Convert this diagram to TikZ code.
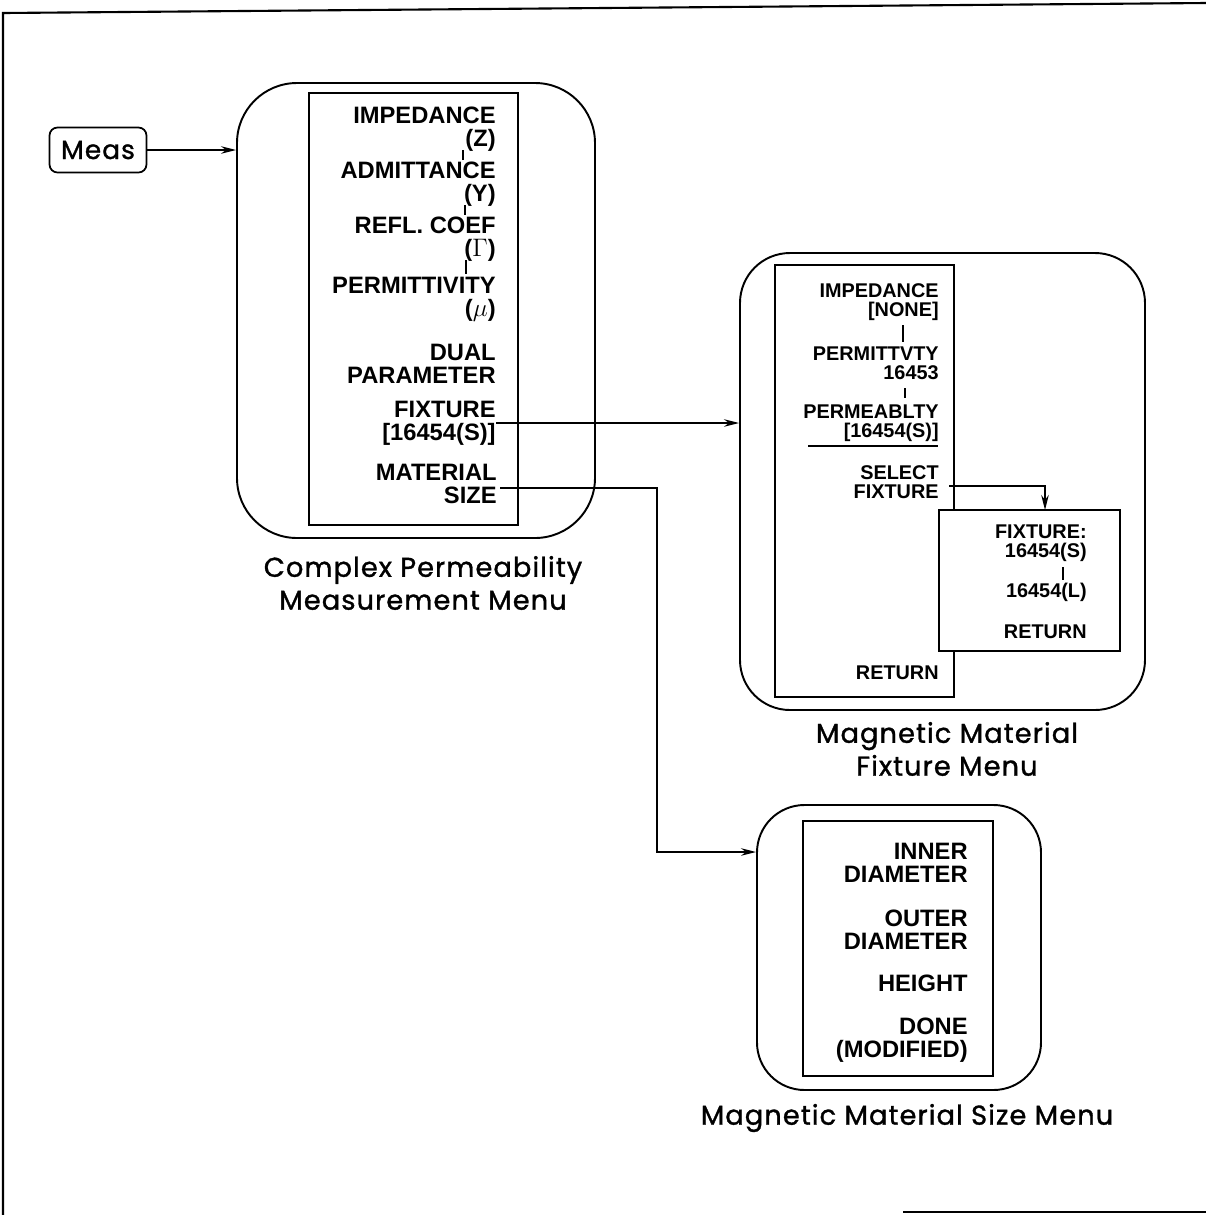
\documentclass[tikz,border=0pt]{standalone}
\usepackage{fontspec}
\setmainfont{Liberation Sans}
\newfontfamily\capfont[FakeBold=1.2,LetterSpace=4]{Poppins}
\usetikzlibrary{positioning,fit,calc,arrows.meta}
\tikzset{
menubox/.style={draw,line width=1.1pt,inner sep=0pt},
keylist/.style={draw,line width=0.9pt,inner sep=0pt},
softkey/.style={anchor=east,align=right,inner sep=0pt,font=\bfseries\fontsize{13.5}{13.2}\selectfont},
smallkey/.style={softkey,font=\bfseries\fontsize{11.3}{11}\selectfont},
caption/.style={align=center,inner sep=0pt,font=\capfont\fontsize{15.5}{18.7}\selectfont},
tick/.style={line width=0.6pt},
flow/.style={-{Stealth[length=3mm,width=1.5mm]},line width=0.8pt}
}
\begin{document}
\begin{tikzpicture}[x=0.02cm,y=-0.02cm]
\useasboundingbox (0,0) rectangle (1206,1215);
% page frame
\draw[line width=1.2pt] (1206,3) -- (3,13) -- (3,1215);
\draw[line width=1.2pt] (903,1212) -- (1206,1212);

\node[draw,line width=1pt,rounded corners=0.16cm,minimum width=1.94cm,minimum height=0.9cm,
  font=\capfont\fontsize{15}{15}\selectfont] (meas) at (98,150) {Meas};

% complex permeability menu
\node[menubox,rounded corners=1.2cm,fit={(237,83) (595,538)}] (permmenu) {};
\node[keylist,fit={(309,93) (518,525)}] (permkeys) {};
\node[softkey] (imp) at (496,129) {IMPEDANCE\\(Z)};
\node[softkey] (adm) at (496,184) {ADMITTANCE\\(Y)};
\node[softkey] (refl) at (496,239) {REFL. COEF\\($\Gamma$)};
\node[softkey] (perm) at (496,299) {PERMITTIVITY\\($\mu$)};
\node[softkey] (dual) at (496,364) {DUAL\\PARAMETER};
\node[softkey] (fixt) at (496,423) {FIXTURE\\{[16454(S)]}};
\node[softkey] (msize) at (497,484) {MATERIAL\\SIZE};
\draw[tick] (463,150) -- (463,160);
\draw[tick] (465,205) -- (465,215);
\draw[tick] (466,260) -- (466,274);
\node[caption] (cap1) at (423,583) {Complex Permeability\\Measurement Menu};

% fixture menu
\node[menubox,rounded corners=1cm,fit={(740,253) (1145,710)}] (fixmenu) {};
\node[keylist,fit={(775,265) (954,697)}] (fixkeys) {};
\node[smallkey] (imp2) at (939,302) {IMPEDANCE\\{[NONE]}};
\node[smallkey] (pty) at (939,363) {PERMITTVTY\\16453};
\node[smallkey] (pby) at (939,423) {PERMEABLTY\\{[16454(S)]}};
\node[smallkey] (sel) at (939,482) {SELECT\\FIXTURE};
\node[smallkey] (ret) at (939,673) {RETURN};
\draw[tick] (903,325) -- (903,342);
\draw[tick] (905,388) -- (905,398);
\draw[line width=0.9pt] (808,446) -- (938,446);
\node[keylist,fill=white,fit={(939,510) (1120,651)}] (fixsel) {};
\node[smallkey] (fx) at (1087,543) {FIXTURE:\\16454(S)};
\node[smallkey] (fl) at (1087,592) {16454(L)};
\node[smallkey] (ret2) at (1087,632) {RETURN};
\draw[tick] (1063,567) -- (1063,580);
\node[caption] (cap2) at (947,749) {Magnetic Material\\Fixture Menu};

% size menu
\node[menubox,rounded corners=0.95cm,fit={(757,805) (1041,1090)}] (sizemenu) {};
\node[keylist,fit={(803,821) (993,1076)}] (sizekeys) {};
\node[softkey] (inner) at (968,863) {INNER\\DIAMETER};
\node[softkey] (outer) at (968,930) {OUTER\\DIAMETER};
\node[softkey] (height) at (968,983) {HEIGHT};
\node[softkey] (done) at (968,1040) {DONE\\(MODIFIED)};
\node[caption] (cap3) at (907,1118) {Magnetic Material Size Menu};

% connectors
\coordinate (selT) at (1045,510);
\coordinate (bend) at (657,852);
\draw[flow] (meas.east) -- (meas.east -| permmenu.west);
\draw[flow] (fixt.east) -- (fixt.east -| fixmenu.west);
\draw[flow] ($(sel.east)+(10,4)$) -| (selT);
\draw[flow] ($(msize.east)+(3,4)$) -| (bend) -- (bend -| sizemenu.west);
\end{tikzpicture}
\end{document}
